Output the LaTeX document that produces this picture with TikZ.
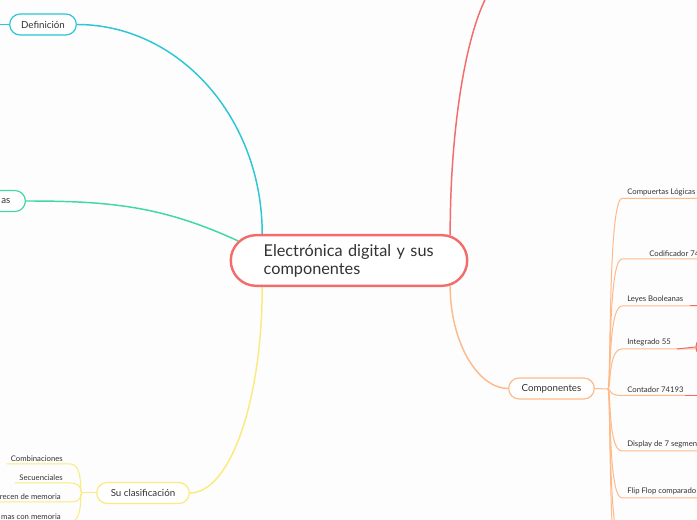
\documentclass[tikz,border=0pt]{standalone}
\usepackage{fontspec}
\setmainfont{Lato}
\usetikzlibrary{shapes.misc, backgrounds}
\definecolor{rojo}{HTML}{F36C6A}
\definecolor{cian}{HTML}{2CC6D6}
\definecolor{verde}{HTML}{40D9A2}
\definecolor{amarillo}{HTML}{FBEA80}
\definecolor{naranja}{HTML}{FDBA8A}
\definecolor{texto}{HTML}{333333}
\definecolor{fondo}{HTML}{FDFDFD}
\tikzstyle{central} = [rounded rectangle, draw=rojo, line width=1.8pt, fill=white, minimum width=184pt, minimum height=38pt, text width=128pt, align=left, text=texto, font=\fontsize{12.2}{13.5}\selectfont]
\tikzstyle{tema} = [rounded rectangle, line width=0.9pt, fill=white, minimum height=15.75pt, inner xsep=2pt, text=texto, font=\fontsize{7.3}{8}\selectfont]
\tikzstyle{hoja} = [inner xsep=0pt, inner ysep=2pt, text=texto, font=\fontsize{5.8}{6.5}\selectfont]
\tikzstyle{rama} = [line width=1.1pt]
\tikzstyle{subrama} = [line width=0.75pt]

\begin{document}
\begin{tikzpicture}[x=0.75pt, y=-0.75pt]
\useasboundingbox (0,0) rectangle (697,520);
% nodo central y temas
\node (cen) [central] at (349,260.5) {Electrónica digital y sus\\componentes};
\node (def) [tema, draw=cian, minimum width=54pt] at (43,24.5) {Definición};
\node (ven) [tema, draw=verde, anchor=east, text width=30pt, align=right, inner xsep=11pt] at (26,201) {as};
\node (cla) [tema, draw=amarillo, minimum width=73.5pt] at (143,493) {Su clasificación};
\node (com) [tema, draw=naranja, minimum width=68.25pt] at (551.5,388.5) {Componentes};
% hojas de componentes
\node (c1) [hoja, anchor=south west] at (627,198.5) {Compuertas Lógicas};
\node (c2) [hoja, anchor=south west] at (649,259) {Codificador 74};
\node (c3) [hoja, anchor=south west] at (627,306) {Leyes Booleanas};
\node (c4) [hoja, anchor=south west] at (627,349) {Integrado 55};
\node (c5) [hoja, anchor=south west] at (627,395.5) {Contador 74193};
\node (c6) [hoja, anchor=south west] at (627,451) {Display de 7 segmen};
\node (c7) [hoja, anchor=south west] at (627,498) {Flip Flop comparado};
\node (c8) [hoja, anchor=south west] at (627,545) {};
\node (c9) [hoja, anchor=south west] at (627,592) {};
\node (int) [circle, draw=rojo, line width=0.9pt, minimum size=15pt] at (706,347) {};
% hojas de clasificacion
\node (s1) [hoja, anchor=south east] at (63,464) {Combinaciones};
\node (s2) [hoja, anchor=south east] at (63,483) {Secuenciales};
\node (s3) [hoja, anchor=south east] at (61,502) {recen de memoria};
\node (s4) [hoja, anchor=south east] at (61,522) {mas con memoria};
\coordinate (arriba) at (510,-25);
\coordinate (jc) at (608,389);
\coordinate (js) at (82,493);
\coordinate (ini) at (622,0);
\coordinate (fin) at (700,0);
\coordinate (ini2) at (70,0);
\coordinate (izq) at (-5,0);
\coordinate (r3) at (690,0);
\coordinate (r4) at (677,0);
\coordinate (r5) at (685,0);
\begin{scope}[on background layer]
\fill [fondo] (0,0) rectangle (697,520);
\draw [rama, cian] (def.east) .. controls +(102,0) and +(0,-116) .. (cen.163);
\draw [rama, cian] (def.west) -- (def.west -| izq);
\draw [rama, verde] (ven.east) .. controls +(84,0) and +(-76,-35) .. (cen.170);
\draw [rama, amarillo] (cen.197) .. controls +(0,114) and +(40,0) .. (cla.east);
\draw [rama, rojo] (cen.14) .. controls +(0,-143) and +(-32,0) .. (arriba);
\draw [rama, naranja] (cen.-14) .. controls +(0,57) and +(-30,0) .. (com.west);
\draw [subrama, naranja] (com.east) -- (jc);
\foreach \h in {c1,c2,c3,c4,c5,c6,c7,c8,c9}
  \draw [subrama, naranja] (jc) .. controls +(3,0) and +(-14,0) .. (\h.south west -| ini) -- (\h.south west -| fin);
\draw [subrama, rojo] (c3.south west -| r3) -- (c3.south west -| fin);
\draw [subrama, rojo] (c4.south west -| r4) -- (int.west);
\draw [subrama, rojo] (c5.south west -| r5) -- (c5.south west -| fin);
\draw [subrama, amarillo] (cla.west) -- (js);
\foreach \h in {s1,s2,s3,s4}
  \draw [subrama, amarillo] (js) .. controls +(-3,0) and +(14,0) .. (\h.south east -| ini2) -- ([xshift=-3pt]\h.south west);
\end{scope}
\end{tikzpicture}
\end{document}
